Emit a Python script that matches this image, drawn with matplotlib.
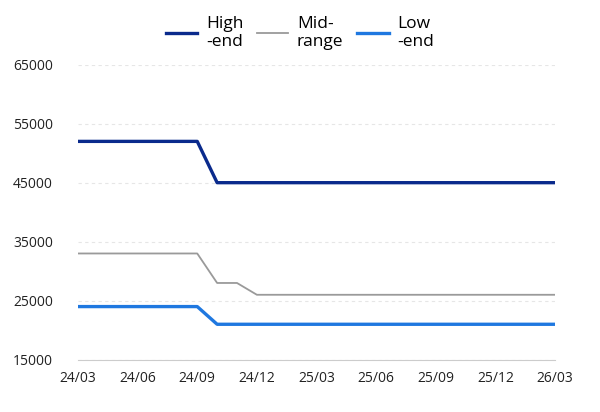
import matplotlib
matplotlib.use("Agg")
import matplotlib.pyplot as plt

months = ["24/03","24/04","24/05","24/06","24/07","24/08","24/09","24/10","24/11","24/12",
          "25/01","25/02","25/03","25/04","25/05","25/06","25/07","25/08","25/09","25/10",
          "25/11","25/12","26/01","26/02","26/03"]
high = [52000]*7 + [45000]*18
mid = [33000]*7 + [28000, 28000] + [26000]*16
low = [24000]*7 + [21000]*18
yticks = [15000, 25000, 35000, 45000, 55000, 65000]

plt.rcParams['font.family'] = ['Open Sans', 'DejaVu Sans']
fig = plt.figure(figsize=(6, 4.12), dpi=100)
ax = fig.add_axes([0.13, 0.127, 0.795, 0.716])
x = list(range(len(months)))
ax.plot(x, high, color="#0a2a8c", lw=2.4, label="High\n-end")
ax.plot(x, mid, color="#9a9a9a", lw=1.3, label="Mid-\nrange")
ax.plot(x, low, color="#1f78e0", lw=2.4, label="Low\n-end")
ax.set_xlim(0, len(months)-1)
ax.set_ylim(15000, 65000)
ax.set_yticks(yticks)
ax.set_yticklabels([str(v) for v in yticks])
ax.set_xticks(x[::3])
ax.set_xticklabels(months[::3])
ax.yaxis.grid(True, color="#e6e6e6", ls=(0, (3, 3)), lw=0.8)
for s in ["top", "right", "left"]:
    ax.spines[s].set_visible(False)
ax.spines["bottom"].set_color("#cccccc")
ax.tick_params(length=0, labelsize=10, colors="#222222")
ax.tick_params(axis='y', pad=18)
ax.tick_params(axis='x', pad=8)
fig.legend(loc="upper center", bbox_to_anchor=(0.5, 1.0), ncol=3, frameon=False,
           fontsize=12.5, handlelength=1.8, columnspacing=0.8, handletextpad=0.5)
fig.savefig("out.png", dpi=100)
